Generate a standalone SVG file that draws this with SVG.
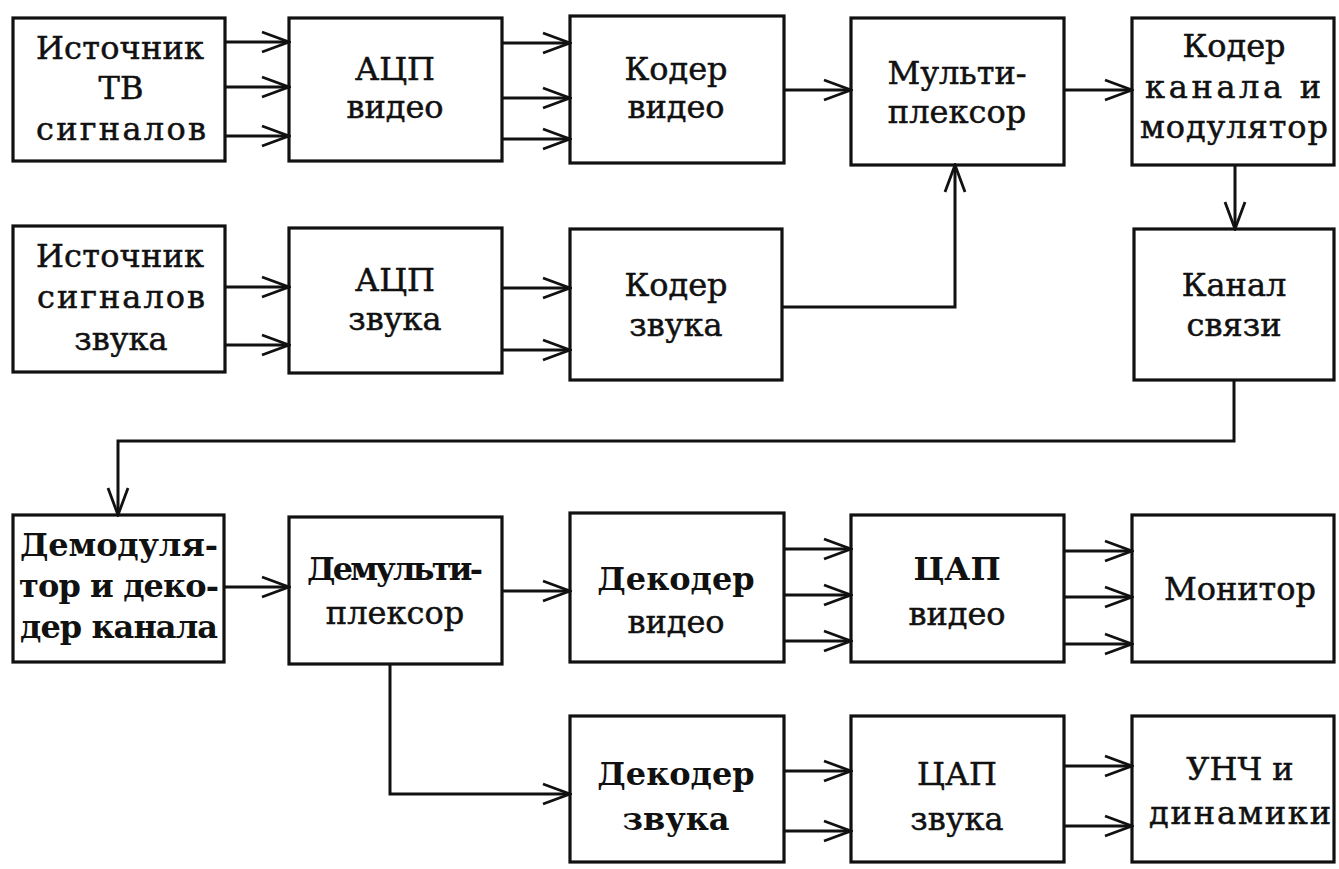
<svg xmlns="http://www.w3.org/2000/svg" width="1339" height="869" viewBox="0 0 1339 869">
<style>
rect.box{fill:#fff;stroke:#111;stroke-width:3.2}
text{font-family:"DejaVu Serif","Liberation Serif",serif;font-size:32px;fill:#111;text-anchor:middle;stroke:#111;stroke-width:0.5}
text.b{font-weight:bold;stroke-width:0}
.c path,.c line{fill:none;stroke:#111;stroke-width:3}
</style>
<defs>
<marker id="ah" viewBox="-29 -13 31 26" refX="0" refY="0" markerWidth="31" markerHeight="26" markerUnits="userSpaceOnUse" orient="auto">
<path d="M-27,-10 L0,0 L-27,10" fill="none" stroke="#111" stroke-width="2.8"/>
</marker>
</defs>
<rect width="1339" height="869" fill="#fff"/>

<g id="n-ist-tv"><rect class="box" x="13" y="18" width="212" height="143"/>
<text x="120" y="59" textLength="168">Источник</text><text x="121" y="99">ТВ</text><text x="121" y="140" textLength="170">сигналов</text></g>
<g id="n-acp-video"><rect class="box" x="289" y="18" width="213" height="143"/>
<text x="395" y="80">АЦП</text><text x="395" y="118">видео</text></g>
<g id="n-coder-video"><rect class="box" x="570" y="16" width="214" height="147"/>
<text x="676" y="80">Кодер</text><text x="676" y="118">видео</text></g>
<g id="n-mux"><rect class="box" x="851" y="18" width="213" height="147"/>
<text x="957" y="84">Мульти-</text><text x="957" y="123">плексор</text></g>
<g id="n-coder-chan"><rect class="box" x="1132" y="18" width="202" height="147"/>
<text x="1234" y="57">Кодер</text><text x="1233" y="98" textLength="176">канала и</text><text x="1234" y="138" textLength="188">модулятор</text></g>

<g id="n-ist-zvuk"><rect class="box" x="13" y="226" width="212" height="146"/>
<text x="120" y="267" textLength="168">Источник</text><text x="121" y="308" textLength="168">сигналов</text><text x="121" y="350">звука</text></g>
<g id="n-acp-zvuk"><rect class="box" x="289" y="228" width="213" height="145"/>
<text x="395" y="291">АЦП</text><text x="395" y="330">звука</text></g>
<g id="n-coder-zvuk"><rect class="box" x="570" y="229" width="212" height="151"/>
<text x="676" y="296">Кодер</text><text x="676" y="336">звука</text></g>
<g id="n-kanal"><rect class="box" x="1134" y="229" width="200" height="151"/>
<text x="1234" y="296">Канал</text><text x="1234" y="336">связи</text></g>

<g id="n-demod"><rect class="box" x="13" y="515" width="211" height="147"/>
<text class="b" x="119" y="556" textLength="198">Демодуля-</text><text class="b" x="119" y="597" textLength="200">тор и деко-</text><text class="b" x="119" y="638" textLength="198">дер канала</text></g>
<g id="n-demux"><rect class="box" x="289" y="517" width="213" height="147"/>
<text class="b" x="395" y="580" textLength="176">Демульти-</text><text x="395" y="624">плексор</text></g>
<g id="n-dec-video"><rect class="box" x="570" y="513" width="214" height="149"/>
<text class="b" x="676" y="590">Декодер</text><text x="676" y="633">видео</text></g>
<g id="n-dac-video"><rect class="box" x="851" y="515" width="213" height="147"/>
<text class="b" x="957" y="580">ЦАП</text><text x="957" y="625">видео</text></g>
<g id="n-monitor"><rect class="box" x="1132" y="515" width="202" height="147"/>
<text x="1240" y="600">Монитор</text></g>

<g id="n-dec-zvuk"><rect class="box" x="570" y="716" width="214" height="146"/>
<text class="b" x="676" y="785">Декодер</text><text class="b" x="676" y="830">звука</text></g>
<g id="n-dac-zvuk"><rect class="box" x="851" y="716" width="213" height="146"/>
<text x="957" y="785">ЦАП</text><text x="957" y="830">звука</text></g>
<g id="n-unch"><rect class="box" x="1132" y="716" width="202" height="146"/>
<text x="1240" y="780">УНЧ и</text><text x="1240" y="824" textLength="182">динамики</text></g>

<g id="connectors" class="c">
<line x1="225" y1="42" x2="289" y2="42" marker-end="url(#ah)"/>
<line x1="225" y1="87" x2="289" y2="87" marker-end="url(#ah)"/>
<line x1="225" y1="136" x2="289" y2="136" marker-end="url(#ah)"/>
<line x1="502" y1="43" x2="570" y2="43" marker-end="url(#ah)"/>
<line x1="502" y1="98" x2="570" y2="98" marker-end="url(#ah)"/>
<line x1="502" y1="139" x2="570" y2="139" marker-end="url(#ah)"/>
<line x1="784" y1="90" x2="851" y2="90" marker-end="url(#ah)"/>
<line x1="1064" y1="90" x2="1132" y2="90" marker-end="url(#ah)"/>
<line x1="1235" y1="165" x2="1235" y2="229" marker-end="url(#ah)"/>
<line x1="225" y1="287" x2="289" y2="287" marker-end="url(#ah)"/>
<line x1="225" y1="345" x2="289" y2="345" marker-end="url(#ah)"/>
<line x1="502" y1="288" x2="570" y2="288" marker-end="url(#ah)"/>
<line x1="502" y1="350" x2="570" y2="350" marker-end="url(#ah)"/>
<path d="M782,307 H955 V165" marker-end="url(#ah)"/>
<path d="M1234,380 V441 H118 V515" marker-end="url(#ah)"/>
<line x1="224" y1="587" x2="289" y2="587" marker-end="url(#ah)"/>
<line x1="502" y1="591" x2="570" y2="591" marker-end="url(#ah)"/>
<path d="M390,664 V794 H570" marker-end="url(#ah)"/>
<line x1="784" y1="549" x2="851" y2="549" marker-end="url(#ah)"/>
<line x1="784" y1="595" x2="851" y2="595" marker-end="url(#ah)"/>
<line x1="784" y1="641" x2="851" y2="641" marker-end="url(#ah)"/>
<line x1="1064" y1="551" x2="1132" y2="551" marker-end="url(#ah)"/>
<line x1="1064" y1="597" x2="1132" y2="597" marker-end="url(#ah)"/>
<line x1="1064" y1="644" x2="1132" y2="644" marker-end="url(#ah)"/>
<line x1="784" y1="771" x2="851" y2="771" marker-end="url(#ah)"/>
<line x1="784" y1="831" x2="851" y2="831" marker-end="url(#ah)"/>
<line x1="1064" y1="766" x2="1132" y2="766" marker-end="url(#ah)"/>
<line x1="1064" y1="826" x2="1132" y2="826" marker-end="url(#ah)"/>
</g>
</svg>
